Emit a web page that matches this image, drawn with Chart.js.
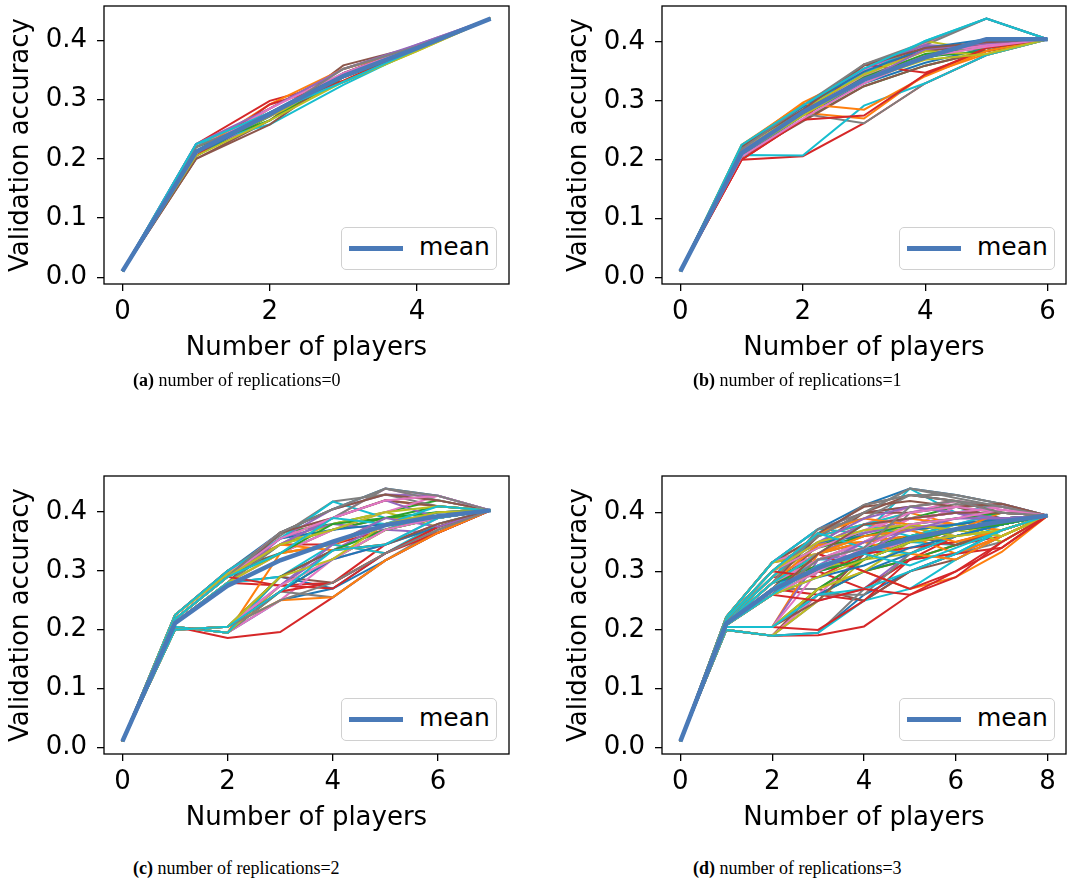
<!DOCTYPE html>
<html>
<head>
<meta charset="utf-8">
<script src="https://cdn.jsdelivr.net/npm/chart.js@4.4.0/dist/chart.umd.min.js"></script>
<style>
  body { margin: 0; background: #fff; width: 1086px; height: 893px; position: relative; overflow: hidden; }
  canvas { position: absolute; }
  .legend { position: absolute; box-sizing: border-box; width: 156px; height: 43px; border: 1px solid #d0d0d0; border-radius: 5px; background: #fff;
            font-family: 'DejaVu Sans'; font-size: 25px; color: #000; }
  .legend .swatch { position: absolute; left: 7px; top: 18px; width: 54px; height: 5px; background: #4a7ab8; }
  .legend .label { position: absolute; left: 77px; top: 5px; line-height: 28px; }
  .caption { position: absolute; font-family: 'Liberation Serif', serif; font-size: 18px; line-height: 22px; white-space: nowrap; }
</style>
</head>
<body>
<script>
// tick labels
const accTicks = [0.0, 0.1, 0.2, 0.3, 0.4];
const playerTicksA = [0, 2, 4];
const playerTicksB = [0, 2, 4, 6];
const playerTicksC = [0, 2, 4, 6];
const playerTicksD = [0, 2, 4, 6, 8];

const captionTexts = ['number of replications=0', 'number of replications=1', 'number of replications=2', 'number of replications=3'];

// (a) 5 players
const meanA = [0.01, 0.212, 0.276, 0.340, 0.387, 0.437];
const runsA = [
  [0.01, 0.212, 0.278, 0.345, 0.388, 0.437],
  [0.01, 0.220, 0.285, 0.352, 0.390, 0.437],
  [0.01, 0.205, 0.272, 0.338, 0.385, 0.437],
  [0.01, 0.225, 0.298, 0.332, 0.388, 0.437],
  [0.01, 0.212, 0.265, 0.345, 0.393, 0.437],
  [0.01, 0.200, 0.265, 0.358, 0.390, 0.437],
  [0.01, 0.220, 0.278, 0.338, 0.390, 0.437],
  [0.01, 0.205, 0.285, 0.352, 0.388, 0.437],
  [0.01, 0.212, 0.272, 0.330, 0.382, 0.437],
  [0.01, 0.225, 0.258, 0.325, 0.385, 0.437],
  [0.01, 0.205, 0.278, 0.338, 0.388, 0.437],
  [0.01, 0.212, 0.292, 0.352, 0.388, 0.437],
  [0.01, 0.220, 0.265, 0.338, 0.385, 0.437],
  [0.01, 0.205, 0.292, 0.330, 0.385, 0.437],
  [0.01, 0.225, 0.285, 0.352, 0.393, 0.437],
  [0.01, 0.200, 0.258, 0.345, 0.390, 0.437],
  [0.01, 0.212, 0.285, 0.345, 0.390, 0.437],
  [0.01, 0.220, 0.272, 0.352, 0.390, 0.437],
  [0.01, 0.205, 0.265, 0.330, 0.382, 0.437],
  [0.01, 0.225, 0.278, 0.330, 0.385, 0.437]
];

// (b) 6 players
const meanB = [0.01, 0.211, 0.281, 0.336, 0.374, 0.405, 0.405];
const runsB = [
  [0.01, 0.212, 0.282, 0.338, 0.372, 0.400, 0.405],
  [0.01, 0.222, 0.297, 0.348, 0.385, 0.400, 0.405],
  [0.01, 0.205, 0.268, 0.325, 0.360, 0.385, 0.405],
  [0.01, 0.200, 0.206, 0.262, 0.330, 0.378, 0.405],
  [0.01, 0.212, 0.285, 0.345, 0.392, 0.395, 0.405],
  [0.01, 0.205, 0.278, 0.355, 0.385, 0.395, 0.405],
  [0.01, 0.218, 0.290, 0.352, 0.398, 0.440, 0.405],
  [0.01, 0.222, 0.285, 0.362, 0.395, 0.440, 0.405],
  [0.01, 0.212, 0.280, 0.340, 0.402, 0.385, 0.405],
  [0.01, 0.225, 0.290, 0.345, 0.402, 0.440, 0.405],
  [0.01, 0.205, 0.275, 0.330, 0.365, 0.390, 0.405],
  [0.01, 0.215, 0.280, 0.270, 0.345, 0.380, 0.405],
  [0.01, 0.210, 0.285, 0.340, 0.375, 0.385, 0.405],
  [0.01, 0.200, 0.268, 0.362, 0.348, 0.385, 0.405],
  [0.01, 0.218, 0.290, 0.355, 0.395, 0.390, 0.405],
  [0.01, 0.205, 0.265, 0.325, 0.360, 0.385, 0.405],
  [0.01, 0.212, 0.280, 0.342, 0.378, 0.395, 0.405],
  [0.01, 0.212, 0.278, 0.262, 0.330, 0.378, 0.405],
  [0.01, 0.215, 0.285, 0.345, 0.385, 0.378, 0.405],
  [0.01, 0.208, 0.207, 0.292, 0.330, 0.378, 0.405],
  [0.01, 0.222, 0.290, 0.350, 0.390, 0.405, 0.405],
  [0.01, 0.225, 0.295, 0.285, 0.342, 0.385, 0.405],
  [0.01, 0.212, 0.278, 0.340, 0.380, 0.390, 0.405],
  [0.01, 0.200, 0.268, 0.275, 0.345, 0.390, 0.405],
  [0.01, 0.215, 0.280, 0.335, 0.388, 0.398, 0.405],
  [0.01, 0.222, 0.285, 0.360, 0.390, 0.400, 0.405],
  [0.01, 0.205, 0.270, 0.330, 0.375, 0.392, 0.405],
  [0.01, 0.218, 0.292, 0.362, 0.400, 0.440, 0.405],
  [0.01, 0.210, 0.275, 0.335, 0.370, 0.380, 0.405],
  [0.01, 0.225, 0.292, 0.355, 0.402, 0.440, 0.405]
];

// (c) 7 players
const meanC = [0.01, 0.211, 0.275, 0.318, 0.350, 0.378, 0.393, 0.403];
const runsC = [
  [0.01, 0.225, 0.300, 0.365, 0.405, 0.440, 0.428, 0.403],
  [0.01, 0.225, 0.300, 0.355, 0.390, 0.420, 0.410, 0.403],
  [0.01, 0.225, 0.295, 0.365, 0.380, 0.400, 0.420, 0.403],
  [0.01, 0.225, 0.300, 0.345, 0.345, 0.370, 0.400, 0.403],
  [0.01, 0.225, 0.295, 0.355, 0.405, 0.430, 0.428, 0.403],
  [0.01, 0.225, 0.300, 0.330, 0.370, 0.390, 0.390, 0.403],
  [0.01, 0.225, 0.295, 0.365, 0.390, 0.440, 0.420, 0.403],
  [0.01, 0.225, 0.300, 0.360, 0.418, 0.430, 0.410, 0.403],
  [0.01, 0.225, 0.295, 0.345, 0.380, 0.400, 0.375, 0.403],
  [0.01, 0.225, 0.300, 0.355, 0.418, 0.390, 0.400, 0.403],

  [0.01, 0.212, 0.280, 0.290, 0.270, 0.330, 0.375, 0.403],
  [0.01, 0.212, 0.280, 0.330, 0.345, 0.380, 0.400, 0.403],
  [0.01, 0.212, 0.280, 0.345, 0.370, 0.390, 0.410, 0.403],
  [0.01, 0.212, 0.280, 0.275, 0.280, 0.345, 0.380, 0.403],
  [0.01, 0.212, 0.280, 0.355, 0.380, 0.370, 0.365, 0.403],
  [0.01, 0.212, 0.280, 0.365, 0.390, 0.420, 0.410, 0.403],
  [0.01, 0.212, 0.280, 0.330, 0.370, 0.400, 0.428, 0.403],
  [0.01, 0.212, 0.280, 0.345, 0.390, 0.440, 0.420, 0.403],
  [0.01, 0.212, 0.280, 0.330, 0.345, 0.390, 0.390, 0.403],
  [0.01, 0.212, 0.280, 0.290, 0.335, 0.370, 0.400, 0.403],

  [0.01, 0.205, 0.195, 0.250, 0.270, 0.318, 0.365, 0.403],
  [0.01, 0.205, 0.195, 0.330, 0.345, 0.330, 0.375, 0.403],
  [0.01, 0.205, 0.195, 0.265, 0.320, 0.370, 0.390, 0.403],
  [0.01, 0.205, 0.186, 0.196, 0.255, 0.318, 0.365, 0.403],
  [0.01, 0.205, 0.195, 0.275, 0.335, 0.380, 0.400, 0.403],
  [0.01, 0.205, 0.195, 0.290, 0.280, 0.330, 0.375, 0.403],
  [0.01, 0.205, 0.195, 0.250, 0.320, 0.345, 0.390, 0.403],
  [0.01, 0.205, 0.195, 0.265, 0.255, 0.318, 0.370, 0.403],
  [0.01, 0.205, 0.195, 0.275, 0.320, 0.370, 0.390, 0.403],
  [0.01, 0.205, 0.195, 0.290, 0.345, 0.330, 0.380, 0.403],

  [0.01, 0.218, 0.290, 0.355, 0.370, 0.380, 0.390, 0.403],
  [0.01, 0.218, 0.290, 0.345, 0.335, 0.345, 0.375, 0.403],
  [0.01, 0.218, 0.290, 0.330, 0.380, 0.390, 0.400, 0.403],
  [0.01, 0.218, 0.290, 0.275, 0.270, 0.330, 0.365, 0.403],
  [0.01, 0.218, 0.290, 0.345, 0.390, 0.420, 0.390, 0.403],
  [0.01, 0.218, 0.290, 0.365, 0.405, 0.430, 0.420, 0.403],
  [0.01, 0.218, 0.290, 0.355, 0.390, 0.420, 0.428, 0.403],
  [0.01, 0.218, 0.290, 0.365, 0.405, 0.440, 0.428, 0.403],
  [0.01, 0.218, 0.290, 0.345, 0.370, 0.400, 0.410, 0.403],
  [0.01, 0.218, 0.290, 0.330, 0.390, 0.380, 0.410, 0.403],

  [0.01, 0.200, 0.205, 0.265, 0.320, 0.345, 0.375, 0.403],
  [0.01, 0.200, 0.205, 0.250, 0.255, 0.318, 0.365, 0.403],
  [0.01, 0.200, 0.205, 0.290, 0.335, 0.370, 0.390, 0.403],
  [0.01, 0.200, 0.205, 0.265, 0.280, 0.330, 0.375, 0.403],
  [0.01, 0.200, 0.205, 0.275, 0.345, 0.390, 0.375, 0.403],
  [0.01, 0.200, 0.205, 0.290, 0.335, 0.345, 0.380, 0.403],
  [0.01, 0.200, 0.205, 0.275, 0.320, 0.370, 0.390, 0.403],
  [0.01, 0.200, 0.205, 0.250, 0.280, 0.330, 0.370, 0.403],
  [0.01, 0.200, 0.205, 0.290, 0.320, 0.380, 0.400, 0.403],
  [0.01, 0.200, 0.205, 0.265, 0.335, 0.345, 0.390, 0.403]
];

// (d) 8 players
const meanD = [0.01, 0.211, 0.268, 0.306, 0.334, 0.356, 0.372, 0.385, 0.395];
const runsD = [
  [0.01, 0.222, 0.315, 0.372, 0.413, 0.441, 0.430, 0.415, 0.395],
  [0.01, 0.222, 0.315, 0.360, 0.380, 0.400, 0.380, 0.390, 0.395],
  [0.01, 0.222, 0.315, 0.345, 0.365, 0.390, 0.410, 0.400, 0.395],
  [0.01, 0.222, 0.315, 0.330, 0.300, 0.320, 0.345, 0.360, 0.395],
  [0.01, 0.222, 0.315, 0.372, 0.400, 0.410, 0.400, 0.380, 0.395],
  [0.01, 0.222, 0.315, 0.360, 0.413, 0.430, 0.420, 0.410, 0.395],
  [0.01, 0.222, 0.315, 0.345, 0.380, 0.410, 0.420, 0.405, 0.395],
  [0.01, 0.222, 0.315, 0.372, 0.400, 0.441, 0.430, 0.415, 0.395],
  [0.01, 0.222, 0.315, 0.330, 0.350, 0.360, 0.380, 0.370, 0.395],
  [0.01, 0.222, 0.315, 0.372, 0.365, 0.441, 0.400, 0.415, 0.395],

  [0.01, 0.210, 0.270, 0.300, 0.330, 0.350, 0.370, 0.385, 0.395],
  [0.01, 0.210, 0.270, 0.345, 0.380, 0.375, 0.360, 0.380, 0.395],
  [0.01, 0.210, 0.270, 0.320, 0.350, 0.360, 0.370, 0.390, 0.395],
  [0.01, 0.210, 0.270, 0.260, 0.250, 0.300, 0.330, 0.360, 0.395],
  [0.01, 0.210, 0.270, 0.330, 0.365, 0.390, 0.400, 0.380, 0.395],
  [0.01, 0.210, 0.270, 0.345, 0.400, 0.410, 0.420, 0.400, 0.395],
  [0.01, 0.210, 0.270, 0.320, 0.350, 0.375, 0.410, 0.415, 0.395],
  [0.01, 0.210, 0.270, 0.270, 0.320, 0.400, 0.415, 0.410, 0.395],
  [0.01, 0.210, 0.270, 0.300, 0.330, 0.360, 0.380, 0.350, 0.395],
  [0.01, 0.210, 0.270, 0.320, 0.320, 0.350, 0.345, 0.380, 0.395],

  [0.01, 0.200, 0.190, 0.195, 0.260, 0.300, 0.330, 0.370, 0.395],
  [0.01, 0.200, 0.190, 0.270, 0.300, 0.270, 0.290, 0.333, 0.395],
  [0.01, 0.200, 0.190, 0.260, 0.300, 0.320, 0.345, 0.370, 0.395],
  [0.01, 0.200, 0.190, 0.191, 0.206, 0.260, 0.290, 0.350, 0.395],
  [0.01, 0.200, 0.190, 0.250, 0.270, 0.330, 0.360, 0.380, 0.395],
  [0.01, 0.200, 0.190, 0.270, 0.250, 0.300, 0.320, 0.360, 0.395],
  [0.01, 0.200, 0.190, 0.260, 0.330, 0.350, 0.370, 0.390, 0.395],
  [0.01, 0.200, 0.190, 0.195, 0.270, 0.320, 0.330, 0.350, 0.395],
  [0.01, 0.200, 0.190, 0.250, 0.320, 0.330, 0.360, 0.370, 0.395],
  [0.01, 0.200, 0.190, 0.195, 0.250, 0.270, 0.320, 0.360, 0.395],

  [0.01, 0.215, 0.290, 0.330, 0.350, 0.360, 0.370, 0.390, 0.395],
  [0.01, 0.215, 0.290, 0.360, 0.380, 0.390, 0.380, 0.370, 0.395],
  [0.01, 0.215, 0.290, 0.320, 0.340, 0.360, 0.380, 0.390, 0.395],
  [0.01, 0.215, 0.290, 0.300, 0.270, 0.320, 0.360, 0.380, 0.395],
  [0.01, 0.215, 0.290, 0.345, 0.380, 0.390, 0.400, 0.410, 0.395],
  [0.01, 0.215, 0.290, 0.360, 0.400, 0.430, 0.420, 0.400, 0.395],
  [0.01, 0.215, 0.290, 0.330, 0.365, 0.400, 0.420, 0.410, 0.395],
  [0.01, 0.215, 0.290, 0.360, 0.413, 0.430, 0.430, 0.415, 0.395],
  [0.01, 0.215, 0.290, 0.345, 0.350, 0.375, 0.380, 0.360, 0.395],
  [0.01, 0.215, 0.290, 0.360, 0.380, 0.400, 0.410, 0.390, 0.395],

  [0.01, 0.205, 0.205, 0.260, 0.300, 0.330, 0.360, 0.380, 0.395],
  [0.01, 0.205, 0.205, 0.330, 0.350, 0.360, 0.330, 0.360, 0.395],
  [0.01, 0.205, 0.205, 0.270, 0.320, 0.350, 0.370, 0.385, 0.395],
  [0.01, 0.205, 0.205, 0.200, 0.250, 0.320, 0.330, 0.340, 0.395],
  [0.01, 0.205, 0.205, 0.320, 0.330, 0.375, 0.380, 0.400, 0.395],
  [0.01, 0.205, 0.205, 0.250, 0.330, 0.360, 0.345, 0.370, 0.395],
  [0.01, 0.205, 0.205, 0.300, 0.350, 0.390, 0.400, 0.410, 0.395],
  [0.01, 0.205, 0.205, 0.260, 0.260, 0.330, 0.370, 0.380, 0.395],
  [0.01, 0.205, 0.205, 0.270, 0.300, 0.350, 0.380, 0.350, 0.395],
  [0.01, 0.205, 0.205, 0.260, 0.270, 0.300, 0.330, 0.370, 0.395],

  [0.01, 0.212, 0.280, 0.300, 0.320, 0.350, 0.360, 0.380, 0.395],
  [0.01, 0.212, 0.280, 0.345, 0.350, 0.330, 0.320, 0.360, 0.395],
  [0.01, 0.212, 0.280, 0.310, 0.330, 0.360, 0.370, 0.380, 0.395],
  [0.01, 0.212, 0.280, 0.330, 0.300, 0.270, 0.300, 0.340, 0.395],
  [0.01, 0.212, 0.280, 0.330, 0.365, 0.380, 0.390, 0.400, 0.395],
  [0.01, 0.212, 0.280, 0.360, 0.400, 0.400, 0.410, 0.390, 0.395],
  [0.01, 0.212, 0.280, 0.320, 0.350, 0.390, 0.400, 0.410, 0.395],
  [0.01, 0.212, 0.280, 0.372, 0.390, 0.430, 0.420, 0.410, 0.395],
  [0.01, 0.212, 0.280, 0.330, 0.360, 0.375, 0.360, 0.370, 0.395],
  [0.01, 0.212, 0.280, 0.330, 0.380, 0.360, 0.380, 0.400, 0.395],

  [0.01, 0.218, 0.300, 0.350, 0.360, 0.370, 0.380, 0.390, 0.395],
  [0.01, 0.218, 0.300, 0.365, 0.390, 0.380, 0.370, 0.400, 0.395],
  [0.01, 0.218, 0.300, 0.340, 0.360, 0.380, 0.390, 0.400, 0.395],
  [0.01, 0.218, 0.300, 0.290, 0.330, 0.340, 0.350, 0.370, 0.395],
  [0.01, 0.218, 0.300, 0.350, 0.390, 0.410, 0.400, 0.390, 0.395],
  [0.01, 0.218, 0.300, 0.365, 0.410, 0.420, 0.410, 0.415, 0.395],
  [0.01, 0.218, 0.300, 0.340, 0.370, 0.400, 0.410, 0.400, 0.395],
  [0.01, 0.218, 0.300, 0.360, 0.400, 0.441, 0.425, 0.410, 0.395],
  [0.01, 0.218, 0.300, 0.350, 0.370, 0.380, 0.370, 0.360, 0.395],
  [0.01, 0.218, 0.300, 0.365, 0.340, 0.330, 0.360, 0.380, 0.395],

  [0.01, 0.208, 0.260, 0.290, 0.310, 0.340, 0.360, 0.380, 0.395],
  [0.01, 0.208, 0.260, 0.330, 0.360, 0.370, 0.350, 0.370, 0.395],
  [0.01, 0.208, 0.260, 0.300, 0.320, 0.350, 0.370, 0.380, 0.395],
  [0.01, 0.208, 0.260, 0.250, 0.270, 0.260, 0.300, 0.350, 0.395],
  [0.01, 0.208, 0.260, 0.310, 0.350, 0.370, 0.390, 0.390, 0.395],
  [0.01, 0.208, 0.260, 0.330, 0.380, 0.390, 0.400, 0.400, 0.395],
  [0.01, 0.208, 0.260, 0.300, 0.340, 0.380, 0.390, 0.405, 0.395],
  [0.01, 0.208, 0.260, 0.320, 0.340, 0.410, 0.420, 0.400, 0.395],
  [0.01, 0.208, 0.260, 0.290, 0.320, 0.350, 0.360, 0.370, 0.395],
  [0.01, 0.208, 0.260, 0.310, 0.330, 0.310, 0.340, 0.370, 0.395]
];

const tab10 = ['#1f77b4', '#ff7f0e', '#2ca02c', '#d62728', '#9467bd',
               '#8c564b', '#e377c2', '#7f7f7f', '#bcbd22', '#17becf'];
const meanColor = '#4a7ab8';

Chart.defaults.font.family = 'DejaVu Sans';
Chart.defaults.color = '#000';

// layout of the four panels (canvas box, plot-area box, legend, caption)
const panels = [
  { runs: runsA, mean: meanA, xTicks: playerTicksA, canvas: [0, 0, 515, 372], area: [104, 6, 509, 284], yTitlePad: 6, legend: [341, 227], caption: [133, 369] },
  { runs: runsB, mean: meanB, xTicks: playerTicksB, canvas: [548, 0, 538, 372], area: [662, 6, 1066, 284], yTitlePad: 16, legend: [899, 227], caption: [693, 369] },
  { runs: runsC, mean: meanC, xTicks: playerTicksC, canvas: [0, 470, 515, 372], area: [104, 476, 509, 754], yTitlePad: 6, legend: [341, 698], caption: [133, 857] },
  { runs: runsD, mean: meanD, xTicks: playerTicksD, canvas: [548, 470, 538, 372], area: [662, 476, 1066, 754], yTitlePad: 16, legend: [899, 698], caption: [693, 857] }
];

// matplotlib-like box around the axes
const framePlugin = {
  id: 'frame',
  afterDraw(chart) {
    const { ctx, chartArea: a } = chart;
    ctx.save();
    ctx.strokeStyle = '#000';
    ctx.lineWidth = 1.3;
    ctx.strokeRect(a.left, a.top, a.right - a.left, a.bottom - a.top);
    ctx.restore();
  }
};

const tickFont = { size: 26 };

panels.forEach((p, k) => {
  const [cl, ct, cw, ch] = p.canvas;
  const [al, at, ar, ab] = p.area;
  const canvas = document.createElement('canvas');
  canvas.width = cw;
  canvas.height = ch;
  canvas.style.left = cl + 'px';
  canvas.style.top = ct + 'px';
  canvas.style.width = cw + 'px';
  canvas.style.height = ch + 'px';
  document.body.appendChild(canvas);

  // axis limits with 5% margins, like matplotlib autoscale
  const n = p.mean.length - 1;
  const all = p.runs.flat().concat(p.mean);
  const lo = Math.min(...all), hi = Math.max(...all);
  const ym = (hi - lo) * 0.05;

  const toPoints = vals => vals.map((v, i) => ({ x: i, y: v }));
  // first dataset is painted last in Chart.js, so mean goes first and runs in reverse
  const datasets = [{
    label: 'mean', data: toPoints(p.mean), borderColor: meanColor, borderWidth: 4.5
  }];
  for (let i = p.runs.length - 1; i >= 0; i--) {
    datasets.push({ label: 'run ' + i, data: toPoints(p.runs[i]), borderColor: tab10[i % 10], borderWidth: 2 });
  }

  new Chart(canvas.getContext('2d'), {
    type: 'line',
    data: { datasets },
    options: {
      responsive: false,
      animation: false,
      devicePixelRatio: 1,
      layout: { padding: { top: at - ct, right: cl + cw - ar, bottom: 0, left: 0 } },
      elements: { point: { radius: 0 }, line: { tension: 0, borderCapStyle: 'butt' } },
      plugins: { legend: { display: false }, tooltip: { enabled: false } },
      scales: {
        x: {
          type: 'linear',
          min: -0.05 * n,
          max: n * 1.05,
          afterBuildTicks: s => { s.ticks = p.xTicks.map(v => ({ value: v })); },
          afterFit: s => { s.height = ct + ch - ab; s.paddingLeft = 0; s.paddingRight = 0; },
          border: { display: false },
          grid: { drawOnChartArea: false, tickLength: 7, color: '#000', lineWidth: 1.3 },
          ticks: { font: tickFont, color: '#000', padding: 6, maxRotation: 0, callback: v => String(v) },
          title: { display: true, text: 'Number of players', font: tickFont, color: '#000', padding: { top: 0, bottom: 8 } }
        },
        y: {
          min: lo - ym,
          max: hi + ym,
          afterBuildTicks: s => { s.ticks = accTicks.map(v => ({ value: v })); },
          afterFit: s => { s.width = al - cl; s.paddingTop = 0; s.paddingBottom = 0; },
          border: { display: false },
          grid: { drawOnChartArea: false, tickLength: 7, color: '#000', lineWidth: 1.3 },
          ticks: { font: tickFont, color: '#000', padding: 10, callback: v => v.toFixed(1) },
          title: { display: true, text: 'Validation accuracy', font: tickFont, color: '#000', padding: { top: p.yTitlePad, bottom: 0 } }
        }
      }
    },
    plugins: [framePlugin]
  });

  const lg = document.createElement('div');
  lg.className = 'legend';
  lg.style.left = p.legend[0] + 'px';
  lg.style.top = p.legend[1] + 'px';
  lg.innerHTML = '<span class="swatch"></span><span class="label">mean</span>';
  document.body.appendChild(lg);

  const cap = document.createElement('div');
  cap.className = 'caption';
  cap.style.left = p.caption[0] + 'px';
  cap.style.top = p.caption[1] + 'px';
  cap.innerHTML = '<b>(' + 'abcd'[k] + ')</b> ' + captionTexts[k];
  document.body.appendChild(cap);
});
</script>
</body>
</html>
